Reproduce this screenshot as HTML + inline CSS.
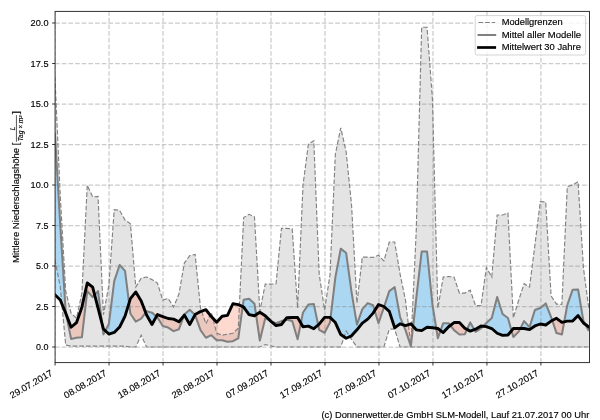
<!DOCTYPE html>
<html><head><meta charset="utf-8"><title>chart</title>
<style>html,body{margin:0;padding:0;background:#fff;overflow:hidden}svg{display:block;opacity:0.999;will-change:transform}text{font-family:"Liberation Sans",sans-serif}</style>
</head><body>
<svg width="600" height="420" viewBox="0 0 600 420">
<defs><clipPath id="ax"><rect x="55.07" y="11.4" width="534.43" height="351.2"/></clipPath></defs>
<rect width="600" height="420" fill="#fff"/>
<g clip-path="url(#ax)">
<polygon points="54.9,76.46 60.29,196.34 65.69,291.11 71.08,313.14 76.47,318.16 81.87,293.54 87.26,185.16 92.65,196.99 98.05,196.34 103.44,314.6 108.84,285.44 114.23,209.62 119.62,210.43 125.02,219.99 130.41,223.88 135.8,287.06 141.2,278.15 146.59,277.02 151.98,279.61 157.38,283.01 162.77,300.02 168.16,298.4 173.56,306.99 178.95,294.03 184.34,263.08 189.74,255.63 195.13,254.5 200.52,308.12 205.92,323.83 211.31,312.49 216.71,333.23 222.1,335.17 227.49,334.2 232.89,333.23 238.28,328.21 243.67,217.56 249.07,214.32 254.46,216.91 259.85,311.36 265.25,284.14 270.64,284.14 276.03,283.82 281.43,228.42 286.82,228.42 292.21,228.74 297.61,308.12 303,185 308.39,144.18 313.79,140.77 319.18,274.1 324.57,310.06 329.97,275.07 335.36,154.22 340.76,127.81 346.15,151.79 351.54,204.93 356.94,303.1 362.33,257.09 367.72,257.09 373.12,257.41 378.51,255.15 383.9,260.98 389.3,242.02 394.69,242.02 400.08,274.1 405.48,300.18 410.87,345.38 416.26,230.36 421.66,27.21 427.05,27.21 432.44,99.14 437.84,308.12 443.23,277.02 448.63,276.53 454.02,277.02 459.41,293.05 464.81,293.05 470.2,290.14 475.59,305.69 480.99,305.69 486.38,267.62 491.77,277.02 497.17,214.97 502.56,214.97 507.95,213.03 513.35,318 518.74,300.02 524.13,283.66 529.53,287.06 534.92,244.94 540.32,201.52 545.71,202.01 551.1,295.97 556.5,304.07 561.89,304.39 567.28,186.62 572.68,185 578.07,181.76 583.46,267.94 588.86,308.93 588.86,347 583.46,347 578.07,347 572.68,347 567.28,347 561.89,347 556.5,347 551.1,347 545.71,347 540.32,347 534.92,347 529.53,347 524.13,347 518.74,347 513.35,347 507.95,347 502.56,347 497.17,347 491.77,347 486.38,347 480.99,347 475.59,347 470.2,347 464.81,347 459.41,347 454.02,347 448.63,347 443.23,347 437.84,347 432.44,347 427.05,347 421.66,347 416.26,347 410.87,347 405.48,347 400.08,347 394.69,329.18 389.3,329.18 383.9,347 378.51,347 373.12,347 367.72,347 362.33,347 356.94,347 351.54,339.39 346.15,331.12 340.76,347 335.36,347 329.97,347 324.57,347 319.18,347 313.79,347 308.39,347 303,347 297.61,347 292.21,347 286.82,347 281.43,347 276.03,347 270.64,345.87 265.25,344.57 259.85,347 254.46,347 249.07,347 243.67,347 238.28,347 232.89,347 227.49,347 222.1,347 216.71,347 211.31,347 205.92,347 200.52,347 195.13,347 189.74,347 184.34,347 178.95,347 173.56,347 168.16,347 162.77,347 157.38,347 151.98,347 146.59,347 141.2,335.17 135.8,347 130.41,347 125.02,346.19 119.62,346.19 114.23,346.19 108.84,346.19 103.44,346.19 98.05,346.19 92.65,346.19 87.26,346.19 81.87,346.19 76.47,346.19 71.08,346.19 65.69,345.06 60.29,287.06 54.9,259.52" fill="#d3d3d3" fill-opacity="0.62"/>
<path d="M54.9,133.16 L60.29,225.5 L65.69,312.17 L66.1,314.23 L66.1,314.23 L65.69,313.14 L60.29,300.02 L54.9,294.67Z M94.66,294.88 L98.05,291.11 L102.15,324.02 L102.15,324.02 L98.05,308.12 L94.66,294.88Z M105.32,330.76 L108.84,324 L114.23,281.07 L119.62,265.03 L125.02,270.86 L129.05,302.97 L129.05,302.97 L125.02,316.06 L119.62,327.07 L114.23,332.42 L108.84,334.04 L105.32,330.76Z M145.68,312.58 L146.59,311.36 L151.98,312.66 L156.41,316.38 L156.41,316.38 L151.98,324.48 L146.59,314.92 L145.68,312.58Z M184.01,315.49 L184.34,314.6 L189.74,309.74 L194.96,314.92 L194.96,314.92 L189.74,324.48 L184.34,315.09 L184.01,315.49Z M242.7,306.68 L243.67,299.7 L249.07,298.72 L254.46,303.75 L256.06,314.67 L256.06,314.67 L254.46,315.73 L249.07,314.6 L243.67,307.15 L242.7,306.68Z M270.64,321.08 L276.03,323.19 L281.43,321.08 L284.76,320.28 L284.76,320.28 L281.43,324.48 L276.03,325.62 L270.64,321.08Z M300.86,323.09 L303,312.49 L308.39,304.56 L313.79,304.07 L318.17,325.01 L318.17,325.01 L313.79,328.69 L308.39,326.1 L303,326.75 L300.86,323.09Z M330.52,317.89 L335.36,277.34 L340.76,248.67 L346.15,253.04 L351.54,292.08 L356.94,324.48 L362.33,309.09 L367.72,303.1 L373.12,305.2 L374.73,310.58 L374.73,310.58 L373.12,313.14 L367.72,319.14 L362.33,323.19 L356.94,329.83 L351.54,335.82 L346.15,338.25 L340.76,334.53 L335.36,322.54 L330.52,317.89Z M384.11,306.69 L389.3,291.11 L394.69,287.06 L400.08,317.19 L403.29,324.89 L403.29,324.89 L400.08,323.83 L394.69,327.72 L389.3,311.36 L384.11,306.69Z M413.11,326.33 L416.26,298.4 L421.66,251.58 L427.05,251.58 L432.44,304.39 L436.25,328.29 L436.25,328.29 L432.44,327.72 L427.05,327.24 L421.66,330.64 L416.26,329.83 L413.11,326.33Z M440.58,330.59 L443.23,323.19 L448.63,323.19 L450.35,325.41 L450.35,325.41 L448.63,326.75 L443.23,332.58 L440.58,330.59Z M467.02,329.41 L470.2,322.54 L474.34,329.63 L474.34,329.63 L470.2,331.12 L467.02,329.41Z M483.17,326.2 L486.38,323.02 L491.77,318 L497.17,296.94 L502.56,313.95 L507.95,318 L511.56,330.68 L511.56,330.68 L507.95,335.01 L502.56,335.34 L497.17,333.23 L491.77,328.53 L486.38,326.59 L483.17,326.2Z M520.38,328.42 L524.13,321.08 L529.53,327.07 L534.92,310.06 L540.32,307.96 L545.71,303.42 L551.1,317.03 L552.26,320.49 L552.26,320.49 L551.1,321.08 L545.71,324.97 L540.32,324 L534.92,325.94 L529.53,329.67 L524.13,328.53 L520.38,328.42Z M564.21,321.82 L567.28,305.04 L572.68,289.65 L578.07,289.49 L583.46,321.08 L585.26,324.37 L585.26,324.37 L583.46,323.02 L578.07,315.57 L572.68,321.08 L567.28,321.08 L564.21,321.82Z" fill="#87cefa" fill-opacity="0.62"/>
<path d="M66.1,314.23 L71.08,338.9 L76.47,337.77 L81.87,337.28 L87.26,291.11 L92.65,297.1 L94.66,294.88 L94.66,294.88 L92.65,287.06 L87.26,283.01 L81.87,307.15 L76.47,322.7 L71.08,327.24 L66.1,314.23Z M102.15,324.02 L103.44,334.36 L105.32,330.76 L105.32,330.76 L103.44,329.02 L102.15,324.02Z M129.05,302.97 L130.41,313.79 L135.8,321.57 L141.2,318.65 L145.68,312.58 L145.68,312.58 L141.2,300.99 L135.8,291.92 L130.41,298.56 L129.05,302.97Z M156.41,316.38 L157.38,317.19 L162.77,325.94 L168.16,327.56 L173.56,331.12 L178.95,329.18 L184.01,315.49 L184.01,315.49 L178.95,321.73 L173.56,319.14 L168.16,318.49 L162.77,316.54 L157.38,314.6 L156.41,316.38Z M194.96,314.92 L195.13,315.09 L200.52,330.15 L205.92,337.77 L211.31,335.17 L216.71,340.2 L222.1,340.2 L227.49,341.82 L232.89,341.17 L238.28,338.25 L242.7,306.68 L242.7,306.68 L238.28,304.56 L232.89,303.75 L227.49,315.41 L222.1,316.22 L216.71,322.21 L211.31,316.54 L205.92,309.74 L200.52,311.52 L195.13,314.6 L194.96,314.92Z M256.06,314.67 L259.85,340.52 L265.25,318.16 L270.64,321.08 L270.64,321.08 L265.25,315.73 L259.85,312.17 L256.06,314.67Z M284.76,320.28 L286.82,319.78 L292.21,321.08 L297.61,339.22 L300.86,323.09 L300.86,323.09 L297.61,317.52 L292.21,317.52 L286.82,317.68 L284.76,320.28Z M318.17,325.01 L319.18,329.83 L324.57,332.74 L329.97,322.54 L330.52,317.89 L330.52,317.89 L329.97,317.35 L324.57,317.35 L319.18,324.16 L318.17,325.01Z M374.73,310.58 L378.51,323.19 L383.9,307.31 L384.11,306.69 L384.11,306.69 L383.9,306.5 L378.51,304.56 L374.73,310.58Z M403.29,324.89 L405.48,330.15 L410.87,346.19 L413.11,326.33 L413.11,326.33 L410.87,323.83 L405.48,325.62 L403.29,324.89Z M436.25,328.29 L437.84,338.25 L440.58,330.59 L440.58,330.59 L437.84,328.53 L436.25,328.29Z M450.35,325.41 L454.02,330.15 L459.41,334.53 L464.81,334.2 L467.02,329.41 L467.02,329.41 L464.81,328.21 L459.41,322.54 L454.02,322.54 L450.35,325.41Z M474.34,329.63 L475.59,331.77 L480.99,328.37 L483.17,326.2 L483.17,326.2 L480.99,325.94 L475.59,329.18 L474.34,329.63Z M511.56,330.68 L513.35,336.96 L518.74,331.61 L520.38,328.42 L520.38,328.42 L518.74,328.37 L513.35,328.53 L511.56,330.68Z M552.26,320.49 L556.5,333.07 L561.89,334.53 L564.21,321.82 L564.21,321.82 L561.89,322.38 L556.5,318.33 L552.26,320.49Z M585.26,324.37 L588.86,330.96 L588.86,327.07 L585.26,324.37Z" fill="#fc8c70" fill-opacity="0.33"/>
<path d="M55.07,362.6 V11.4" fill="none" stroke="#808080" stroke-opacity="0.41" stroke-width="1.25" stroke-dasharray="4.65 2.02"/>
<path d="M109.05,362.6 V11.4" fill="none" stroke="#808080" stroke-opacity="0.41" stroke-width="1.25" stroke-dasharray="4.65 2.02"/>
<path d="M163.04,362.6 V11.4" fill="none" stroke="#808080" stroke-opacity="0.41" stroke-width="1.25" stroke-dasharray="4.65 2.02"/>
<path d="M217.02,362.6 V11.4" fill="none" stroke="#808080" stroke-opacity="0.41" stroke-width="1.25" stroke-dasharray="4.65 2.02"/>
<path d="M271,362.6 V11.4" fill="none" stroke="#808080" stroke-opacity="0.41" stroke-width="1.25" stroke-dasharray="4.65 2.02"/>
<path d="M324.98,362.6 V11.4" fill="none" stroke="#808080" stroke-opacity="0.41" stroke-width="1.25" stroke-dasharray="4.65 2.02"/>
<path d="M378.97,362.6 V11.4" fill="none" stroke="#808080" stroke-opacity="0.41" stroke-width="1.25" stroke-dasharray="4.65 2.02"/>
<path d="M432.95,362.6 V11.4" fill="none" stroke="#808080" stroke-opacity="0.41" stroke-width="1.25" stroke-dasharray="4.65 2.02"/>
<path d="M486.93,362.6 V11.4" fill="none" stroke="#808080" stroke-opacity="0.41" stroke-width="1.25" stroke-dasharray="4.65 2.02"/>
<path d="M540.92,362.6 V11.4" fill="none" stroke="#808080" stroke-opacity="0.41" stroke-width="1.25" stroke-dasharray="4.65 2.02"/>
<path d="M55.07,347 H589.5" fill="none" stroke="#808080" stroke-opacity="0.41" stroke-width="1.25" stroke-dasharray="4.65 2.02"/>
<path d="M55.07,306.5 H589.5" fill="none" stroke="#808080" stroke-opacity="0.41" stroke-width="1.25" stroke-dasharray="4.65 2.02"/>
<path d="M55.07,266 H589.5" fill="none" stroke="#808080" stroke-opacity="0.41" stroke-width="1.25" stroke-dasharray="4.65 2.02"/>
<path d="M55.07,225.5 H589.5" fill="none" stroke="#808080" stroke-opacity="0.41" stroke-width="1.25" stroke-dasharray="4.65 2.02"/>
<path d="M55.07,185 H589.5" fill="none" stroke="#808080" stroke-opacity="0.41" stroke-width="1.25" stroke-dasharray="4.65 2.02"/>
<path d="M55.07,144.5 H589.5" fill="none" stroke="#808080" stroke-opacity="0.41" stroke-width="1.25" stroke-dasharray="4.65 2.02"/>
<path d="M55.07,104 H589.5" fill="none" stroke="#808080" stroke-opacity="0.41" stroke-width="1.25" stroke-dasharray="4.65 2.02"/>
<path d="M55.07,63.5 H589.5" fill="none" stroke="#808080" stroke-opacity="0.41" stroke-width="1.25" stroke-dasharray="4.65 2.02"/>
<path d="M55.07,23 H589.5" fill="none" stroke="#808080" stroke-opacity="0.41" stroke-width="1.25" stroke-dasharray="4.65 2.02"/>
<polyline points="54.9,76.46 60.29,196.34 65.69,291.11 71.08,313.14 76.47,318.16 81.87,293.54 87.26,185.16 92.65,196.99 98.05,196.34 103.44,314.6 108.84,285.44 114.23,209.62 119.62,210.43 125.02,219.99 130.41,223.88 135.8,287.06 141.2,278.15 146.59,277.02 151.98,279.61 157.38,283.01 162.77,300.02 168.16,298.4 173.56,306.99 178.95,294.03 184.34,263.08 189.74,255.63 195.13,254.5 200.52,308.12 205.92,323.83 211.31,312.49 216.71,333.23 222.1,335.17 227.49,334.2 232.89,333.23 238.28,328.21 243.67,217.56 249.07,214.32 254.46,216.91 259.85,311.36 265.25,284.14 270.64,284.14 276.03,283.82 281.43,228.42 286.82,228.42 292.21,228.74 297.61,308.12 303,185 308.39,144.18 313.79,140.77 319.18,274.1 324.57,310.06 329.97,275.07 335.36,154.22 340.76,127.81 346.15,151.79 351.54,204.93 356.94,303.1 362.33,257.09 367.72,257.09 373.12,257.41 378.51,255.15 383.9,260.98 389.3,242.02 394.69,242.02 400.08,274.1 405.48,300.18 410.87,345.38 416.26,230.36 421.66,27.21 427.05,27.21 432.44,99.14 437.84,308.12 443.23,277.02 448.63,276.53 454.02,277.02 459.41,293.05 464.81,293.05 470.2,290.14 475.59,305.69 480.99,305.69 486.38,267.62 491.77,277.02 497.17,214.97 502.56,214.97 507.95,213.03 513.35,318 518.74,300.02 524.13,283.66 529.53,287.06 534.92,244.94 540.32,201.52 545.71,202.01 551.1,295.97 556.5,304.07 561.89,304.39 567.28,186.62 572.68,185 578.07,181.76 583.46,267.94 588.86,308.93" fill="none" stroke="#828282" stroke-width="1.15" stroke-dasharray="4.65 2.02"/>
<polyline points="54.9,259.52 60.29,287.06 65.69,345.06 71.08,346.19 76.47,346.19 81.87,346.19 87.26,346.19 92.65,346.19 98.05,346.19 103.44,346.19 108.84,346.19 114.23,346.19 119.62,346.19 125.02,346.19 130.41,347 135.8,347 141.2,335.17 146.59,347 151.98,347 157.38,347 162.77,347 168.16,347 173.56,347 178.95,347 184.34,347 189.74,347 195.13,347 200.52,347 205.92,347 211.31,347 216.71,347 222.1,347 227.49,347 232.89,347 238.28,347 243.67,347 249.07,347 254.46,347 259.85,347 265.25,344.57 270.64,345.87 276.03,347 281.43,347 286.82,347 292.21,347 297.61,347 303,347 308.39,347 313.79,347 319.18,347 324.57,347 329.97,347 335.36,347 340.76,347 346.15,331.12 351.54,339.39 356.94,347 362.33,347 367.72,347 373.12,347 378.51,347 383.9,347 389.3,329.18 394.69,329.18 400.08,347 405.48,347 410.87,347 416.26,347 421.66,347 427.05,347 432.44,347 437.84,347 443.23,347 448.63,347 454.02,347 459.41,347 464.81,347 470.2,347 475.59,347 480.99,347 486.38,347 491.77,347 497.17,347 502.56,347 507.95,347 513.35,347 518.74,347 524.13,347 529.53,347 534.92,347 540.32,347 545.71,347 551.1,347 556.5,347 561.89,347 567.28,347 572.68,347 578.07,347 583.46,347 588.86,347" fill="none" stroke="#828282" stroke-width="1.15" stroke-dasharray="4.65 2.02"/>
<polyline points="54.9,133.16 60.29,225.5 65.69,312.17 71.08,338.9 76.47,337.77 81.87,337.28 87.26,291.11 92.65,297.1 98.05,291.11 103.44,334.36 108.84,324 114.23,281.07 119.62,265.03 125.02,270.86 130.41,313.79 135.8,321.57 141.2,318.65 146.59,311.36 151.98,312.66 157.38,317.19 162.77,325.94 168.16,327.56 173.56,331.12 178.95,329.18 184.34,314.6 189.74,309.74 195.13,315.09 200.52,330.15 205.92,337.77 211.31,335.17 216.71,340.2 222.1,340.2 227.49,341.82 232.89,341.17 238.28,338.25 243.67,299.7 249.07,298.72 254.46,303.75 259.85,340.52 265.25,318.16 270.64,321.08 276.03,323.19 281.43,321.08 286.82,319.78 292.21,321.08 297.61,339.22 303,312.49 308.39,304.56 313.79,304.07 319.18,329.83 324.57,332.74 329.97,322.54 335.36,277.34 340.76,248.67 346.15,253.04 351.54,292.08 356.94,324.48 362.33,309.09 367.72,303.1 373.12,305.2 378.51,323.19 383.9,307.31 389.3,291.11 394.69,287.06 400.08,317.19 405.48,330.15 410.87,346.19 416.26,298.4 421.66,251.58 427.05,251.58 432.44,304.39 437.84,338.25 443.23,323.19 448.63,323.19 454.02,330.15 459.41,334.53 464.81,334.2 470.2,322.54 475.59,331.77 480.99,328.37 486.38,323.02 491.77,318 497.17,296.94 502.56,313.95 507.95,318 513.35,336.96 518.74,331.61 524.13,321.08 529.53,327.07 534.92,310.06 540.32,307.96 545.71,303.42 551.1,317.03 556.5,333.07 561.89,334.53 567.28,305.04 572.68,289.65 578.07,289.49 583.46,321.08 588.86,330.96" fill="none" stroke="#808080" stroke-width="2.05" stroke-linejoin="round"/>
<polyline points="54.9,294.67 60.29,300.02 65.69,313.14 71.08,327.24 76.47,322.7 81.87,307.15 87.26,283.01 92.65,287.06 98.05,308.12 103.44,329.02 108.84,334.04 114.23,332.42 119.62,327.07 125.02,316.06 130.41,298.56 135.8,291.92 141.2,300.99 146.59,314.92 151.98,324.48 157.38,314.6 162.77,316.54 168.16,318.49 173.56,319.14 178.95,321.73 184.34,315.09 189.74,324.48 195.13,314.6 200.52,311.52 205.92,309.74 211.31,316.54 216.71,322.21 222.1,316.22 227.49,315.41 232.89,303.75 238.28,304.56 243.67,307.15 249.07,314.6 254.46,315.73 259.85,312.17 265.25,315.73 270.64,321.08 276.03,325.62 281.43,324.48 286.82,317.68 292.21,317.52 297.61,317.52 303,326.75 308.39,326.1 313.79,328.69 319.18,324.16 324.57,317.35 329.97,317.35 335.36,322.54 340.76,334.53 346.15,338.25 351.54,335.82 356.94,329.83 362.33,323.19 367.72,319.14 373.12,313.14 378.51,304.56 383.9,306.5 389.3,311.36 394.69,327.72 400.08,323.83 405.48,325.62 410.87,323.83 416.26,329.83 421.66,330.64 427.05,327.24 432.44,327.72 437.84,328.53 443.23,332.58 448.63,326.75 454.02,322.54 459.41,322.54 464.81,328.21 470.2,331.12 475.59,329.18 480.99,325.94 486.38,326.59 491.77,328.53 497.17,333.23 502.56,335.34 507.95,335.01 513.35,328.53 518.74,328.37 524.13,328.53 529.53,329.67 534.92,325.94 540.32,324 545.71,324.97 551.1,321.08 556.5,318.33 561.89,322.38 567.28,321.08 572.68,321.08 578.07,315.57 583.46,323.02 588.86,327.07" fill="none" stroke="#000" stroke-width="2.9" stroke-linejoin="round" stroke-linecap="square"/>
</g>
<rect x="55.07" y="11.4" width="534.43" height="351.2" fill="none" stroke="#2a2a2a" stroke-width="0.95"/>
<path d="M55.07,362.6 v2.92 M109.05,362.6 v2.92 M163.04,362.6 v2.92 M217.02,362.6 v2.92 M271,362.6 v2.92 M324.98,362.6 v2.92 M378.97,362.6 v2.92 M432.95,362.6 v2.92 M486.93,362.6 v2.92 M540.92,362.6 v2.92 M55.07,347 h-2.92 M55.07,306.5 h-2.92 M55.07,266 h-2.92 M55.07,225.5 h-2.92 M55.07,185 h-2.92 M55.07,144.5 h-2.92 M55.07,104 h-2.92 M55.07,63.5 h-2.92 M55.07,23 h-2.92" fill="none" stroke="#000" stroke-width="0.8"/>
<text x="48.5" y="350.15" font-size="9.1" text-anchor="end" fill="#000" stroke="#000" stroke-width="0.14" textLength="12.5" lengthAdjust="spacingAndGlyphs">0.0</text>
<text x="48.5" y="309.65" font-size="9.1" text-anchor="end" fill="#000" stroke="#000" stroke-width="0.14" textLength="12.5" lengthAdjust="spacingAndGlyphs">2.5</text>
<text x="48.5" y="269.15" font-size="9.1" text-anchor="end" fill="#000" stroke="#000" stroke-width="0.14" textLength="12.5" lengthAdjust="spacingAndGlyphs">5.0</text>
<text x="48.5" y="228.65" font-size="9.1" text-anchor="end" fill="#000" stroke="#000" stroke-width="0.14" textLength="12.5" lengthAdjust="spacingAndGlyphs">7.5</text>
<text x="48.5" y="188.15" font-size="9.1" text-anchor="end" fill="#000" stroke="#000" stroke-width="0.14" textLength="17.9" lengthAdjust="spacingAndGlyphs">10.0</text>
<text x="48.5" y="147.65" font-size="9.1" text-anchor="end" fill="#000" stroke="#000" stroke-width="0.14" textLength="17.9" lengthAdjust="spacingAndGlyphs">12.5</text>
<text x="48.5" y="107.15" font-size="9.1" text-anchor="end" fill="#000" stroke="#000" stroke-width="0.14" textLength="17.9" lengthAdjust="spacingAndGlyphs">15.0</text>
<text x="48.5" y="66.65" font-size="9.1" text-anchor="end" fill="#000" stroke="#000" stroke-width="0.14" textLength="17.9" lengthAdjust="spacingAndGlyphs">17.5</text>
<text x="48.5" y="26.15" font-size="9.1" text-anchor="end" fill="#000" stroke="#000" stroke-width="0.14" textLength="17.9" lengthAdjust="spacingAndGlyphs">20.0</text>
<g transform="translate(53.37,374.8) rotate(-30)"><text x="0" y="0" font-size="9.1" text-anchor="end" fill="#000" stroke="#000" stroke-width="0.14" textLength="47.71" lengthAdjust="spacingAndGlyphs">29.07.2017</text></g>
<g transform="translate(107.35,374.8) rotate(-30)"><text x="0" y="0" font-size="9.1" text-anchor="end" fill="#000" stroke="#000" stroke-width="0.14" textLength="47.71" lengthAdjust="spacingAndGlyphs">08.08.2017</text></g>
<g transform="translate(161.34,374.8) rotate(-30)"><text x="0" y="0" font-size="9.1" text-anchor="end" fill="#000" stroke="#000" stroke-width="0.14" textLength="47.71" lengthAdjust="spacingAndGlyphs">18.08.2017</text></g>
<g transform="translate(215.32,374.8) rotate(-30)"><text x="0" y="0" font-size="9.1" text-anchor="end" fill="#000" stroke="#000" stroke-width="0.14" textLength="47.71" lengthAdjust="spacingAndGlyphs">28.08.2017</text></g>
<g transform="translate(269.3,374.8) rotate(-30)"><text x="0" y="0" font-size="9.1" text-anchor="end" fill="#000" stroke="#000" stroke-width="0.14" textLength="47.71" lengthAdjust="spacingAndGlyphs">07.09.2017</text></g>
<g transform="translate(323.28,374.8) rotate(-30)"><text x="0" y="0" font-size="9.1" text-anchor="end" fill="#000" stroke="#000" stroke-width="0.14" textLength="47.71" lengthAdjust="spacingAndGlyphs">17.09.2017</text></g>
<g transform="translate(377.27,374.8) rotate(-30)"><text x="0" y="0" font-size="9.1" text-anchor="end" fill="#000" stroke="#000" stroke-width="0.14" textLength="47.71" lengthAdjust="spacingAndGlyphs">27.09.2017</text></g>
<g transform="translate(431.25,374.8) rotate(-30)"><text x="0" y="0" font-size="9.1" text-anchor="end" fill="#000" stroke="#000" stroke-width="0.14" textLength="47.71" lengthAdjust="spacingAndGlyphs">07.10.2017</text></g>
<g transform="translate(485.23,374.8) rotate(-30)"><text x="0" y="0" font-size="9.1" text-anchor="end" fill="#000" stroke="#000" stroke-width="0.14" textLength="47.71" lengthAdjust="spacingAndGlyphs">17.10.2017</text></g>
<g transform="translate(539.22,374.8) rotate(-30)"><text x="0" y="0" font-size="9.1" text-anchor="end" fill="#000" stroke="#000" stroke-width="0.14" textLength="47.71" lengthAdjust="spacingAndGlyphs">27.10.2017</text></g>
<g transform="translate(18.9,262.9) rotate(-90)">
<text x="0" y="0" font-size="9.1" text-anchor="start" fill="#000" stroke="#000" stroke-width="0.14" textLength="120.3" lengthAdjust="spacingAndGlyphs">Mittlere Niederschlagshöhe [</text>
<text x="134.5" y="-3.9" font-size="6.3" font-style="italic" text-anchor="middle" fill="#000" stroke="#000" stroke-width="0.14">L</text>
<rect x="121.2" y="-2.95" width="26.6" height="0.65" fill="#000"/>
<text x="134.5" y="3.9" font-size="6.3" font-style="italic" text-anchor="middle" fill="#000" stroke="#000" stroke-width="0.14" textLength="25.8" lengthAdjust="spacingAndGlyphs">Tag × m²</text>
<text x="148.6" y="0" font-size="9.1" text-anchor="start" fill="#000" stroke="#000" stroke-width="0.14" textLength="3.25" lengthAdjust="spacingAndGlyphs">]</text>
</g>
<rect x="475.2" y="15.6" width="110.4" height="39.4" rx="1.7" ry="1.7" fill="#fff" fill-opacity="0.8" stroke="#cccccc" stroke-width="0.85"/>
<path d="M478.5,22.5 h16.67" stroke="#828282" stroke-width="1.15" stroke-dasharray="4.65 2.02" fill="none"/>
<path d="M477.5,35 h18.7" stroke="#808080" stroke-width="2.05" fill="none"/>
<path d="M477.1,47.5 h19" stroke="#000" stroke-width="2.7" fill="none"/>
<text x="501.65" y="25.2" font-size="9.1" text-anchor="start" fill="#000" stroke="#000" stroke-width="0.14" textLength="61.06" lengthAdjust="spacingAndGlyphs">Modellgrenzen</text>
<text x="501.65" y="37.7" font-size="9.1" text-anchor="start" fill="#000" stroke="#000" stroke-width="0.14" textLength="79.53" lengthAdjust="spacingAndGlyphs">Mittel aller Modelle</text>
<text x="501.65" y="50.2" font-size="9.1" text-anchor="start" fill="#000" stroke="#000" stroke-width="0.14" textLength="79.23" lengthAdjust="spacingAndGlyphs">Mittelwert 30 Jahre</text>
<text x="589.3" y="418.1" font-size="9.1" text-anchor="end" fill="#000" stroke="#000" stroke-width="0.14" textLength="267.9" lengthAdjust="spacingAndGlyphs">(c) Donnerwetter.de GmbH SLM-Modell, Lauf 21.07.2017 00 Uhr</text>
</svg>
</body></html>
